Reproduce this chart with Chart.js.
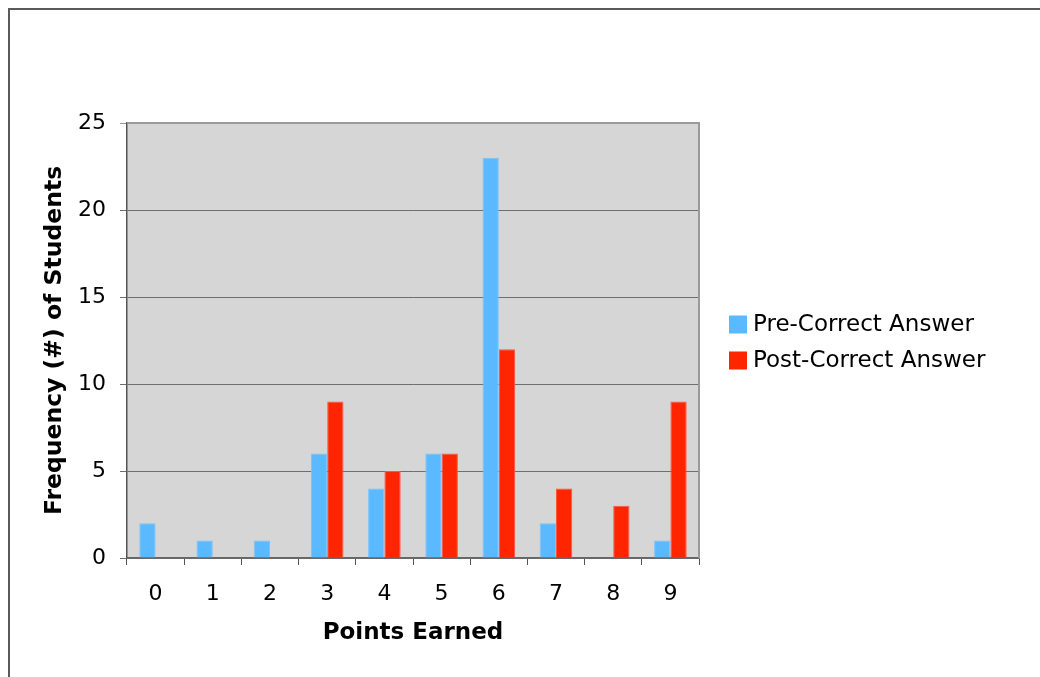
<!DOCTYPE html>
<html>
<head>
<meta charset="utf-8">
<script src="https://cdn.jsdelivr.net/npm/chart.js@4/dist/chart.umd.min.js"></script>
<style>
  html, body { margin: 0; padding: 0; background: #fff; }
  #frame { position: absolute; left: 8px; top: 8px; right: 0; bottom: 0;
           border-left: 2px solid #5a5a5a; border-top: 2px solid #5a5a5a; }
  #wrap { position: absolute; left: 0; top: 0; width: 1040px; height: 677px; }
</style>
</head>
<body>
<div id="frame"></div>
<div id="wrap"><canvas id="c" width="1040" height="677"></canvas></div>
<script>
// Score distribution before and after the correct answer was shown
const pointsEarned = ['0', '1', '2', '3', '4', '5', '6', '7', '8', '9'];
const preCorrect  = [2, 1, 1, 6, 4, 6, 23, 2, 0, 1];
const postCorrect = [0, 0, 0, 9, 5, 6, 12, 4, 3, 9];
const seriesNames = ['Pre-Correct Answer', 'Post-Correct Answer'];
const yTicks = [0, 5, 10, 15, 20, 25];

const FONT = 'DejaVu Sans, Verdana, sans-serif';
const BLUE = '#5bbaff';
const RED = '#ff2500';

// gray plot background behind the bars, light frame on top and right
const plotBackground = {
  id: 'plotBackground',
  beforeDraw(chart) {
    const { ctx, chartArea: a } = chart;
    ctx.save();
    ctx.fillStyle = '#d6d6d6';
    ctx.fillRect(a.left, a.top, a.right - a.left, a.bottom - a.top);
    ctx.restore();
  },
  beforeDatasetsDraw(chart) {
    const { ctx, chartArea: a } = chart;
    ctx.save();
    ctx.strokeStyle = '#9a9a9a';
    ctx.lineWidth = 2;
    ctx.beginPath();
    ctx.moveTo(a.left, a.top);
    ctx.lineTo(a.right, a.top);
    ctx.lineTo(a.right, a.bottom);
    ctx.stroke();
    ctx.restore();
  }
};

// legend drawn beside the plot, using the dataset labels and colours
const sideLegend = {
  id: 'sideLegend',
  afterDraw(chart) {
    const { ctx } = chart;
    const a = chart.chartArea;
    const x = a.right + 30;
    const midY = (a.top + a.bottom) / 2 + 2;
    const step = 36;
    const ds = chart.data.datasets;
    const startY = midY - step * (ds.length - 1) / 2;
    ctx.save();
    ctx.font = '23px ' + FONT;
    ctx.textBaseline = 'middle';
    ctx.textAlign = 'left';
    ds.forEach((d, i) => {
      const cy = startY + i * step;
      ctx.fillStyle = d.backgroundColor;
      ctx.fillRect(x, cy - 9, 18, 18);
      ctx.fillStyle = '#000';
      ctx.fillText(d.label, x + 24, cy + 1);
    });
    ctx.restore();
  }
};

new Chart(document.getElementById('c'), {
  type: 'bar',
  data: {
    labels: pointsEarned,
    datasets: [
      { label: seriesNames[0], data: preCorrect, backgroundColor: BLUE,
        borderColor: '#75c4ff', borderWidth: { top: 1, left: 1, right: 1, bottom: 0 } },
      { label: seriesNames[1], data: postCorrect, backgroundColor: RED,
        borderColor: '#ff5540', borderWidth: { top: 1, left: 1, right: 1, bottom: 0 } }
    ]
  },
  plugins: [plotBackground, sideLegend],
  options: {
    responsive: false,
    animation: false,
    devicePixelRatio: 1,
    layout: { padding: { top: 123, right: 341, bottom: 0, left: 0 } },
    datasets: { bar: { barPercentage: 1.0, categoryPercentage: 0.57 } },
    plugins: { legend: { display: false }, tooltip: { enabled: false } },
    scales: {
      x: {
        grid: { offset: true, drawOnChartArea: false, drawTicks: true, tickLength: 7, color: '#555' },
        border: { color: '#666', width: 1.5 },
        ticks: { color: '#000', font: { family: FONT, size: 22 }, padding: 16 },
        title: { display: true, text: 'Points Earned', color: '#000',
                 font: { family: FONT, size: 23, weight: 'bold' }, padding: { top: 0, bottom: 30 } },
        afterFit(s) { s.height = 119; }
      },
      y: {
        min: 0, max: 25,
        afterBuildTicks(s) { s.ticks = yTicks.map(v => ({ value: v })); },
        grid: { color: (c) => c.tick && c.tick.value === 25 ? '#9a9a9a' : '#6e6e6e', lineWidth: 1, tickLength: 7 },
        border: { color: '#555', width: 1.5 },
        ticks: { color: '#000', font: { family: FONT, size: 22 }, padding: 14 },
        title: { display: true, text: 'Frequency (#) of Students', color: '#000',
                 font: { family: FONT, size: 23.5, weight: 'bold' }, padding: { top: 41, bottom: 0 } },
        afterFit(s) { s.width = 127; }
      }
    }
  }
});
</script>
</body>
</html>
